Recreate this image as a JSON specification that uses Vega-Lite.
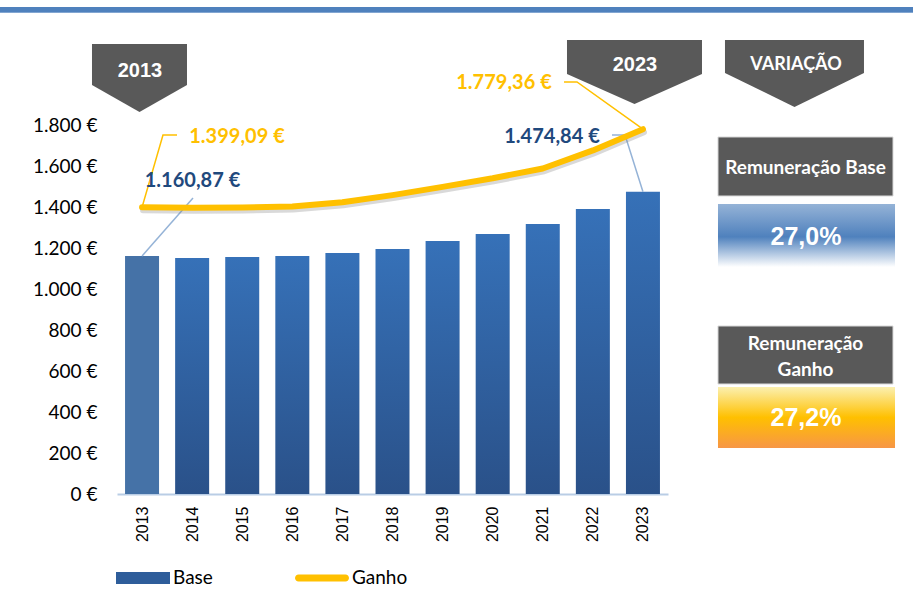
{
  "$schema": "https://vega.github.io/schema/vega-lite/v6.json",
  "width": 551,
  "height": 369,
  "autosize": {"type": "none"},
  "padding": {"left": 117, "top": 125, "right": 245, "bottom": 95},
  "background": "white",
  "config": {"view": {"stroke": null}, "font": "Lato", "axis": {"grid": false, "title": null}},
  "datasets": {
    "salarios": [
      {"year": 2013, "base": 1160.87, "ganho": 1399.09},
      {"year": 2014, "base": 1151, "ganho": 1396},
      {"year": 2015, "base": 1156, "ganho": 1398},
      {"year": 2016, "base": 1161, "ganho": 1403},
      {"year": 2017, "base": 1176, "ganho": 1423},
      {"year": 2018, "base": 1195, "ganho": 1458},
      {"year": 2019, "base": 1234, "ganho": 1498},
      {"year": 2020, "base": 1268, "ganho": 1540},
      {"year": 2021, "base": 1317, "ganho": 1588},
      {"year": 2022, "base": 1390, "ganho": 1676},
      {"year": 2023, "base": 1474.84, "ganho": 1779.36}
    ],
    "leaders": [
      {"series": "Ganho", "id": "g13", "seq": 0, "year": 2013, "value": 1399.09},
      {"series": "Ganho", "id": "g13", "seq": 1, "year": 2013.418, "value": 1751.2},
      {"series": "Ganho", "id": "g13", "seq": 2, "year": 2013.698, "value": 1751.2},
      {"series": "Ganho", "id": "g23", "seq": 0, "year": 2023, "value": 1779.36},
      {"series": "Ganho", "id": "g23", "seq": 1, "year": 2021.683, "value": 2009.8},
      {"series": "Ganho", "id": "g23", "seq": 2, "year": 2021.424, "value": 2009.8},
      {"series": "Base", "id": "b13", "seq": 0, "year": 2013, "value": 1160.87},
      {"series": "Base", "id": "b13", "seq": 1, "year": 2014.017, "value": 1443.9},
      {"series": "Base", "id": "b23", "seq": 0, "year": 2023, "value": 1474.84},
      {"series": "Base", "id": "b23", "seq": 1, "year": 2022.642, "value": 1751.2},
      {"series": "Base", "id": "b23", "seq": 2, "year": 2022.382, "value": 1751.2}
    ],
    "labels": [
      {"series": "Ganho", "year": 2014.896, "value": 1741.5, "text": "1.399,09 €"},
      {"series": "Base", "year": 2014.007, "value": 1526.8, "text": "1.160,87 €"},
      {"series": "Ganho", "year": 2020.226, "value": 2004.9, "text": "1.779,36 €"},
      {"series": "Base", "year": 2021.184, "value": 1741.5, "text": "1.474,84 €"}
    ],
    "headers": [
      {"year": 2024.498, "year2": 2027.992, "value": 1741.5, "value2": 1453.7},
      {"year": 2024.498, "year2": 2027.992, "value": 819.5, "value2": 536.6}
    ],
    "headerText": [
      {"year": 2026.245, "value": 1590.2, "text": "Remuneração Base"},
      {"year": 2026.245, "value": 731.7, "text": "Remuneração\nGanho"}
    ],
    "variation": [
      {"kind": "Base", "year": 2024.498, "year2": 2028.032, "value": 1414.6, "value2": 1107.3, "tx": 2026.255, "ty": 1253.7, "text": "27,0%"},
      {"kind": "Ganho", "year": 2024.498, "year2": 2028.032, "value": 521.9, "value2": 224.4, "tx": 2026.255, "ty": 370.7, "text": "27,2%"}
    ],
    "banners": [
      {"id": "2013", "year": 2012.949, "value": 2029.3, "ty": 2063.4, "tx": 2012.959},
      {"id": "2023", "year": 2022.831, "value": 2058.5, "ty": 2092.7, "tx": 2022.841},
      {"id": "VARIAÇÃO", "year": 2026.025, "value": 2051.2, "ty": 2092.7, "tx": 2026.055}
    ]
  },
  "layer": [
    {
      "data": {"name": "salarios"},
      "transform": [{"filter": "datum.year > 2013"}],
      "mark": {"type": "bar", "width": 34, "color": {"gradient": "linear", "x1": 0, "y1": 0, "x2": 0, "y2": 1, "stops": [{"offset": 0, "color": "#3671b8"}, {"offset": 1, "color": "#2a5189"}]}},
      "encoding": {
        "x": {"field": "year", "type": "quantitative", "scale": {"domain": [2012.5, 2023.5], "nice": false, "zero": false, "padding": 0},
          "axis": {"values": [2013, 2014, 2015, 2016, 2017, 2018, 2019, 2020, 2021, 2022, 2023], "format": "d", "labelAngle": -90, "labelFont": "Liberation Sans", "labelFontSize": 16, "labelColor": "#000000", "labelPadding": 12, "ticks": false, "grid": false, "domain": true, "domainColor": "#b9cde5", "domainWidth": 2, "title": null, "labelFlush": false, "labelOverlap": false}},
        "y": {"field": "base", "type": "quantitative", "scale": {"domain": [0, 1800], "nice": false},
          "axis": {"values": [0, 200, 400, 600, 800, 1000, 1200, 1400, 1600, 1800], "labelExpr": "replace(format(datum.value, ',d'), ',', '.') + ' €'", "labelFont": "Lato", "labelFontSize": 19, "labelColor": "#000000", "labelPadding": 20, "ticks": false, "domain": false, "grid": false, "title": null}}
      }
    },
    {
      "data": {"name": "salarios"},
      "transform": [{"filter": "datum.year == 2013"}],
      "mark": {"type": "bar", "width": 34, "color": "#4572a7"},
      "encoding": {
        "x": {"field": "year", "type": "quantitative", "scale": {"domain": [2012.5, 2023.5], "nice": false, "zero": false, "padding": 0}},
        "y": {"field": "base", "type": "quantitative", "scale": {"domain": [0, 1800], "nice": false}}
      }
    },
    {
      "data": {"values": [{"year": 2010, "year2": 2029, "value": 2346.3, "value2": 2375.6}]},
      "mark": {"type": "rect", "color": {"gradient": "linear", "x1": 0, "y1": 0, "x2": 0, "y2": 1, "stops": [{"offset": 0, "color": "#4f81bd"}, {"offset": 0.75, "color": "#4f81bd"}, {"offset": 1, "color": "#9db9dc"}]}},
      "encoding": {
        "x": {"field": "year", "type": "quantitative", "scale": {"domain": [2012.5, 2023.5], "nice": false, "zero": false, "padding": 0}},
        "x2": {"field": "year2"},
        "y": {"field": "value", "type": "quantitative", "scale": {"domain": [0, 1800], "nice": false}},
        "y2": {"field": "value2"}
      }
    },
    {
      "data": {"name": "leaders"},
      "transform": [{"filter": "datum.series == 'Base'"}],
      "mark": {"type": "line", "color": "#95b3d7", "strokeWidth": 1.5},
      "encoding": {
        "x": {"field": "year", "type": "quantitative", "scale": {"domain": [2012.5, 2023.5], "nice": false, "zero": false, "padding": 0}},
        "y": {"field": "value", "type": "quantitative", "scale": {"domain": [0, 1800], "nice": false}},
        "detail": {"field": "id"},
        "order": {"field": "seq"}
      }
    },
    {
      "data": {"name": "leaders"},
      "transform": [{"filter": "datum.series == 'Ganho'"}],
      "mark": {"type": "line", "color": "#ffc000", "strokeWidth": 1.5},
      "encoding": {
        "x": {"field": "year", "type": "quantitative", "scale": {"domain": [2012.5, 2023.5], "nice": false, "zero": false, "padding": 0}},
        "y": {"field": "value", "type": "quantitative", "scale": {"domain": [0, 1800], "nice": false}},
        "detail": {"field": "id"},
        "order": {"field": "seq"}
      }
    },
    {
      "data": {"name": "salarios"},
      "mark": {"type": "line", "color": "#808080", "opacity": 0.3, "strokeWidth": 6, "strokeCap": "round", "yOffset": 3, "xOffset": 1},
      "encoding": {
        "x": {"field": "year", "type": "quantitative", "scale": {"domain": [2012.5, 2023.5], "nice": false, "zero": false, "padding": 0}},
        "y": {"field": "ganho", "type": "quantitative", "scale": {"domain": [0, 1800], "nice": false}}
      }
    },
    {
      "data": {"name": "salarios"},
      "mark": {"type": "line", "strokeWidth": 6, "strokeCap": "round", "strokeJoin": "round"},
      "encoding": {
        "x": {"field": "year", "type": "quantitative", "scale": {"domain": [2012.5, 2023.5], "nice": false, "zero": false, "padding": 0}},
        "y": {"field": "ganho", "type": "quantitative", "scale": {"domain": [0, 1800], "nice": false}},
        "color": {"datum": "Ganho", "type": "nominal", "scale": {"domain": ["Base", "Ganho"], "range": ["#2e5d9a", "#ffc000"]},
          "legend": {"title": null, "orient": "none", "legendX": -1, "legendY": 426, "direction": "horizontal", "padding": 0, "symbolSize": 2916, "labelFont": "Lato", "labelFontSize": 19, "labelColor": "#000000", "labelOffset": 3, "columnPadding": 82,
            "encode": {"symbols": {"update": {
              "shape": {"signal": "datum.value === 'Base' ? 'M-1,-0.22H1V0.22H-1Z' : 'M-0.87,-0.13H0.87A0.13,0.13,0,0,1,0.87,0.13H-0.87A0.13,0.13,0,0,1,-0.87,-0.13Z'"},
              "fill": {"signal": "datum.value === 'Base' ? '#2e5d9a' : '#ffc000'"},
              "stroke": {"value": "transparent"},
              "strokeWidth": {"value": 0},
              "opacity": {"value": 1}
            }}}}}
      }
    },
    {
      "data": {"name": "labels"},
      "transform": [{"filter": "datum.series == 'Base'"}],
      "mark": {"type": "text", "font": "Lato", "fontSize": 20, "fontWeight": "bold", "color": "#1f497d", "align": "center", "baseline": "middle"},
      "encoding": {
        "x": {"field": "year", "type": "quantitative", "scale": {"domain": [2012.5, 2023.5], "nice": false, "zero": false, "padding": 0}},
        "y": {"field": "value", "type": "quantitative", "scale": {"domain": [0, 1800], "nice": false}},
        "text": {"field": "text"}
      }
    },
    {
      "data": {"name": "labels"},
      "transform": [{"filter": "datum.series == 'Ganho'"}],
      "mark": {"type": "text", "font": "Lato", "fontSize": 20, "fontWeight": "bold", "color": "#ffc000", "align": "center", "baseline": "middle"},
      "encoding": {
        "x": {"field": "year", "type": "quantitative", "scale": {"domain": [2012.5, 2023.5], "nice": false, "zero": false, "padding": 0}},
        "y": {"field": "value", "type": "quantitative", "scale": {"domain": [0, 1800], "nice": false}},
        "text": {"field": "text"}
      }
    },
    {
      "data": {"name": "banners"},
      "transform": [{"filter": "datum.id == '2013'"}],
      "mark": {"type": "point", "filled": true, "color": "#595959", "opacity": 1, "size": 9025, "shape": "M-1,-0.716H1V0.147L0,0.716L-1,0.147Z"},
      "encoding": {
        "x": {"field": "year", "type": "quantitative", "scale": {"domain": [2012.5, 2023.5], "nice": false, "zero": false, "padding": 0}},
        "y": {"field": "value", "type": "quantitative", "scale": {"domain": [0, 1800], "nice": false}}
      }
    },
    {
      "data": {"name": "banners"},
      "transform": [{"filter": "datum.id == '2023'"}],
      "mark": {"type": "point", "filled": true, "color": "#595959", "opacity": 1, "size": 18225, "shape": "M-1,-0.474H1V0.03L0,0.474L-1,0.03Z"},
      "encoding": {
        "x": {"field": "year", "type": "quantitative", "scale": {"domain": [2012.5, 2023.5], "nice": false, "zero": false, "padding": 0}},
        "y": {"field": "value", "type": "quantitative", "scale": {"domain": [0, 1800], "nice": false}}
      }
    },
    {
      "data": {"name": "banners"},
      "transform": [{"filter": "datum.id == 'VARIAÇÃO'"}],
      "mark": {"type": "point", "filled": true, "color": "#595959", "opacity": 1, "size": 19321, "shape": "M-1,-0.482H1V-0.007L0,0.482L-1,-0.007Z"},
      "encoding": {
        "x": {"field": "year", "type": "quantitative", "scale": {"domain": [2012.5, 2023.5], "nice": false, "zero": false, "padding": 0}},
        "y": {"field": "value", "type": "quantitative", "scale": {"domain": [0, 1800], "nice": false}}
      }
    },
    {
      "data": {"name": "banners"},
      "transform": [{"filter": "datum.id != 'VARIAÇÃO'"}],
      "mark": {"type": "text", "font": "Liberation Sans", "fontSize": 20, "fontWeight": "bold", "color": "#ffffff", "align": "center", "baseline": "middle"},
      "encoding": {
        "x": {"field": "tx", "type": "quantitative", "scale": {"domain": [2012.5, 2023.5], "nice": false, "zero": false, "padding": 0}},
        "y": {"field": "ty", "type": "quantitative", "scale": {"domain": [0, 1800], "nice": false}},
        "text": {"field": "id"}
      }
    },
    {
      "data": {"name": "banners"},
      "transform": [{"filter": "datum.id == 'VARIAÇÃO'"}],
      "mark": {"type": "text", "font": "Lato", "fontSize": 18, "fontWeight": "bold", "color": "#ffffff", "align": "center", "baseline": "middle"},
      "encoding": {
        "x": {"field": "tx", "type": "quantitative", "scale": {"domain": [2012.5, 2023.5], "nice": false, "zero": false, "padding": 0}},
        "y": {"field": "ty", "type": "quantitative", "scale": {"domain": [0, 1800], "nice": false}},
        "text": {"field": "id"}
      }
    },
    {
      "data": {"name": "headers"},
      "mark": {"type": "rect", "color": "#595959", "stroke": "#d9d9d9", "strokeWidth": 1},
      "encoding": {
        "x": {"field": "year", "type": "quantitative", "scale": {"domain": [2012.5, 2023.5], "nice": false, "zero": false, "padding": 0}},
        "x2": {"field": "year2"},
        "y": {"field": "value", "type": "quantitative", "scale": {"domain": [0, 1800], "nice": false}},
        "y2": {"field": "value2"}
      }
    },
    {
      "data": {"name": "headerText"},
      "mark": {"type": "text", "font": "Lato", "fontSize": 19, "fontWeight": "bold", "color": "#ffffff", "align": "center", "baseline": "middle", "lineBreak": "\n", "lineHeight": 26},
      "encoding": {
        "x": {"field": "year", "type": "quantitative", "scale": {"domain": [2012.5, 2023.5], "nice": false, "zero": false, "padding": 0}},
        "y": {"field": "value", "type": "quantitative", "scale": {"domain": [0, 1800], "nice": false}},
        "text": {"field": "text"}
      }
    },
    {
      "data": {"name": "variation"},
      "transform": [{"filter": "datum.kind == 'Base'"}],
      "mark": {"type": "rect", "color": {"gradient": "linear", "x1": 0, "y1": 0, "x2": 0, "y2": 1, "stops": [{"offset": 0, "color": "#95b3d7"}, {"offset": 0.52, "color": "#4f81bd"}, {"offset": 1, "color": "#ffffff"}]}},
      "encoding": {
        "x": {"field": "year", "type": "quantitative", "scale": {"domain": [2012.5, 2023.5], "nice": false, "zero": false, "padding": 0}},
        "x2": {"field": "year2"},
        "y": {"field": "value", "type": "quantitative", "scale": {"domain": [0, 1800], "nice": false}},
        "y2": {"field": "value2"}
      }
    },
    {
      "data": {"name": "variation"},
      "transform": [{"filter": "datum.kind == 'Ganho'"}],
      "mark": {"type": "rect", "color": {"gradient": "linear", "x1": 0, "y1": 0, "x2": 0, "y2": 1, "stops": [{"offset": 0, "color": "#fbf0b0"}, {"offset": 0.5, "color": "#ffc000"}, {"offset": 1, "color": "#f79646"}]}},
      "encoding": {
        "x": {"field": "year", "type": "quantitative", "scale": {"domain": [2012.5, 2023.5], "nice": false, "zero": false, "padding": 0}},
        "x2": {"field": "year2"},
        "y": {"field": "value", "type": "quantitative", "scale": {"domain": [0, 1800], "nice": false}},
        "y2": {"field": "value2"}
      }
    },
    {
      "data": {"name": "variation"},
      "mark": {"type": "text", "font": "Liberation Sans", "fontSize": 25, "fontWeight": "bold", "color": "#ffffff", "align": "center", "baseline": "middle"},
      "encoding": {
        "x": {"field": "tx", "type": "quantitative", "scale": {"domain": [2012.5, 2023.5], "nice": false, "zero": false, "padding": 0}},
        "y": {"field": "ty", "type": "quantitative", "scale": {"domain": [0, 1800], "nice": false}},
        "text": {"field": "text"}
      }
    }
  ]
}
